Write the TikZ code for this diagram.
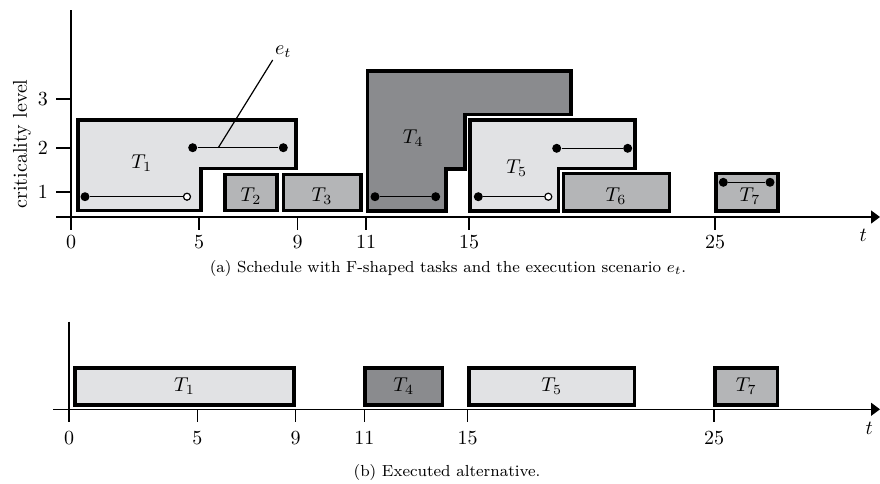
\documentclass[tikz,border=0pt]{standalone}
\usepackage{tikz}
\usetikzlibrary{arrows.meta,positioning}
\usepackage{xcolor}
\usepackage{amsmath}
\definecolor{lightg}{HTML}{E1E2E4}
\definecolor{midg}{HTML}{B4B5B7}
\definecolor{darkg}{HTML}{8A8B8E}

\begin{document}
\begin{tikzpicture}[x=0.5pt,y=-0.5pt,
        task/.style={draw, line width=1.8pt},
        axis/.style={line width=0.7pt},
        tip/.style={-{Triangle[length=4.5pt,width=6.5pt]}},
        dot/.style={circle, fill, inner sep=0pt, minimum size=4.5pt},
        odot/.style={circle, draw, fill=white, line width=0.6pt, inner sep=0pt, minimum size=3.5pt},
        run/.style={line width=0.6pt},
        subcap/.style={font=\footnotesize}
    ]
        \useasboundingbox (0,0) rectangle (880,483);

        \draw[axis] (71,10) -- (71,230);
        \draw[axis,tip] (56,217) -- (880,217);
        \foreach \y/\l in {99/3,148/2,192/1} {
            \draw[axis] (56,\y) -- (71,\y);
            \node (ly\l) at (43,\y) {\l};
        }
        \foreach \x/\l in {71/0,199/5,297.5/9,366/11,469/15,715/25} {
            \draw[axis] (\x,217) -- (\x,230);
            \node (la\l) at (\x,241.7) {\l};
        }
        \node[rotate=90] (ylab) at (22,144) {criticality level};
        \node (ta) at (863.3,235) {$t$};

        \draw[task,fill=lightg] (77.7,210.3) -- (77.7,120) -- (296,120) -- (296,168.3) -- (200.8,168.3) -- (200.8,210.3) -- cycle;
        \draw[task,fill=midg] (225,174.3) rectangle (276.7,210.3);
        \draw[task,fill=midg] (283.3,174.3) rectangle (360.7,210.3);
        \draw[task,fill=darkg] (367.3,211) -- (367.3,70.7) -- (571,70.7) -- (571,114.3) -- (465,114.3) -- (465,169) -- (446,169) -- (446,211) -- cycle;
        \draw[task,fill=lightg] (470,211) -- (470,120) -- (635,120) -- (635,168.3) -- (558.3,168.3) -- (558.3,211) -- cycle;
        \draw[task,fill=midg] (563.3,173.3) rectangle (669.3,210.7);
        \draw[task,fill=midg] (716,173.3) rectangle (778,210.7);

        \node (t1) at (141.7,163) {$T_1$};
        \node (t2) at (251,196) {$T_2$};
        \node (t3) at (322,196) {$T_3$};
        \node (t4) at (413.3,138.3) {$T_4$};
        \node (t5) at (516.7,168.3) {$T_5$};
        \node (t6) at (616,196) {$T_6$};
        \node (t7) at (750,196) {$T_7$};

        \node[dot] (a1) at (85,196.7) {};
        \node[odot] (a2) at (187,196.7) {};
        \node[dot] (b1) at (192.7,147.7) {};
        \node[dot] (b2) at (283.3,147.7) {};
        \node[dot] (c1) at (375,196.7) {};
        \node[dot] (c2) at (435.7,196.7) {};
        \node[dot] (d1) at (478.3,196.7) {};
        \node[odot] (d2) at (548.3,196.7) {};
        \node[dot] (e1) at (556.7,148.3) {};
        \node[dot] (e2) at (627.7,148.3) {};
        \node[dot] (f1) at (723.3,182.3) {};
        \node[dot] (f2) at (770,182.3) {};
        \draw[run] (a1) -- (a2);
        \draw[run] (b1) -- (b2);
        \draw[run] (c1) -- (c2);
        \draw[run] (d1) -- (d2);
        \draw[run] (e1) -- (e2);
        \draw[run] (f1) -- (f2);

        \coordinate (eb) at (218.3,147.7);
        \node[anchor=south west, inner sep=1pt] (et) at (272.7,60) {$e_t$};
        \draw[run] (eb) -- (et.south west);

        \node[subcap] (capa) at (448,268) {(a) Schedule with F-shaped tasks and the execution scenario $e_t$.};

        \draw[axis] (69,321.7) -- (69,422);
        \draw[axis,tip] (53,409.3) -- (880,409.3);
        \foreach \x/\l in {69/0,197.3/5,295.7/9,364.3/11,467.7/15,714/25} {
            \draw[axis] (\x,409.3) -- (\x,422);
            \node (lb\l) at (\x,438.3) {\l};
        }
        \node (tb) at (869.3,428.3) {$t$};

        \draw[task,fill=lightg] (75,367.7) rectangle (294,405);
        \draw[task,fill=darkg] (365,367.7) rectangle (442.6,405);
        \draw[task,fill=lightg] (469,367.7) rectangle (634.3,405);
        \draw[task,fill=midg] (715,367.7) rectangle (777.3,405);
        \node (u1) at (184.5,386.3) {$T_1$};
        \node (u4) at (403.8,386.3) {$T_4$};
        \node (u5) at (551.7,386.3) {$T_5$};
        \node (u7) at (746.2,386.3) {$T_7$};

        \node[subcap] (capb) at (447,472.3) {(b) Executed alternative.};
    \end{tikzpicture}
\end{document}
